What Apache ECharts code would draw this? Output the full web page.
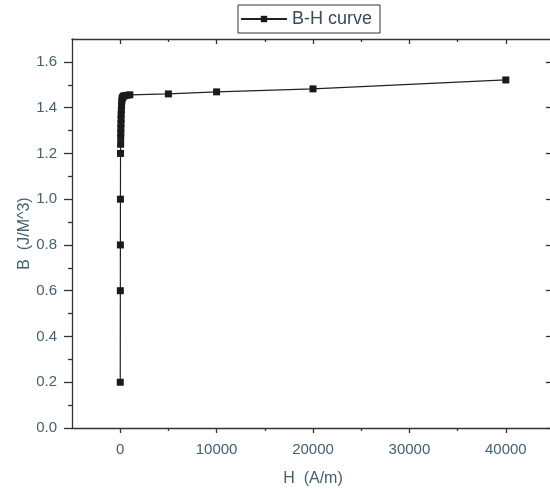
<!DOCTYPE html>
<html>
<head>
<meta charset="utf-8">
<script src="https://cdn.jsdelivr.net/npm/echarts@6/dist/echarts.min.js"></script>
<style>
html,body{margin:0;padding:0;background:#fff;}
#chart{width:550px;height:489px;}
</style>
</head>
<body>
<div id="chart"></div>
<script>
// Data
var H = [5, 15, 20, 25, 35, 45, 55, 60, 70, 80, 90, 100, 120, 140, 170, 200, 250, 320, 450, 700, 1000, 5000, 10000, 20000, 40000];
var B = [0.2, 0.6, 0.8, 1.0, 1.2, 1.24, 1.27, 1.29, 1.31, 1.33, 1.35, 1.37, 1.39, 1.41, 1.43, 1.44, 1.445, 1.45, 1.452, 1.454, 1.456, 1.46, 1.469, 1.482, 1.521];
var xMajor = [0, 10000, 20000, 30000, 40000];
var xMinor = [5000, 15000, 25000, 35000];
var yMajor = [0, 0.2, 0.4, 0.6, 0.8, 1.0, 1.2, 1.4, 1.6];
var yMinor = [0.1, 0.3, 0.5, 0.7, 0.9, 1.1, 1.3, 1.5];
var seriesName = 'B-H curve';
var xName = 'H  (A/m)';
var yName = 'B  (J/M^3)';

var pts = H.map(function (h, i) { return [h, B[i]]; });
var axisCol = '#333';
var labelCol = '#456070';
var font = 'Arial, "Liberation Sans", sans-serif';
var gridRect = { left: 72, top: 39, width: 482, height: 389, containLabel: false, outerBoundsMode: 'none' };

function xAx(grid, pos, ticks, len, inside, showLine, showLabels) {
  return {
    type: 'value', gridIndex: grid, position: pos, min: -5000, max: 45000,
    axisLine: { show: showLine, onZero: false, lineStyle: { color: axisCol, width: 1.3 } },
    axisTick: { show: true, inside: inside, length: len, customValues: ticks, lineStyle: { color: axisCol, width: 1.3 } },
    axisLabel: showLabels ? { show: true, customValues: xMajor, margin: 14, color: labelCol, fontSize: 15, fontFamily: font,
      formatter: function (v) { return String(Math.round(v)); } } : { show: false },
    splitLine: { show: false }
  };
}
function yAx(grid, pos, ticks, len, inside, showLine, showLabels) {
  return {
    type: 'value', gridIndex: grid, position: pos, min: 0, max: 1.7,
    axisLine: { show: showLine, onZero: false, lineStyle: { color: axisCol, width: 1.3 } },
    axisTick: { show: true, inside: inside, length: len, customValues: ticks, lineStyle: { color: axisCol, width: 1.3 } },
    axisLabel: showLabels ? { show: true, customValues: yMajor, margin: 15, color: labelCol, fontSize: 15, fontFamily: font,
      formatter: function (v) { return (+v).toFixed(1); } } : { show: false },
    splitLine: { show: false }
  };
}

var xa0 = xAx(0, 'bottom', xMajor, 5, false, true, true);
xa0.name = xName; xa0.nameLocation = 'middle'; xa0.nameGap = 43; xa0.nameMoveOverlap = false;
xa0.nameTextStyle = { color: labelCol, fontSize: 16, fontFamily: font };
var ya0 = yAx(0, 'left', yMajor, 8, false, true, true);
ya0.name = yName; ya0.nameLocation = 'middle'; ya0.nameGap = 39; ya0.nameMoveOverlap = false;
ya0.nameTextStyle = { color: labelCol, fontSize: 16, fontFamily: font };

var chart = echarts.init(document.getElementById('chart'), null, { renderer: 'canvas' });
chart.setOption({
  animation: false,
  backgroundColor: '#fff',
  grid: [gridRect, Object.assign({}, gridRect)],
  legend: {
    left: 238, top: 5,
    data: [seriesName],
    itemWidth: 46, itemHeight: 8, itemGap: 6,
    borderColor: '#333', borderWidth: 1,
    padding: [5, 8, 5, 2],
    textStyle: { color: '#3a4a5a', fontSize: 18, fontFamily: font }
  },
  xAxis: [
    xa0,
    xAx(0, 'top', xMajor, 5, true, true, false),
    xAx(1, 'bottom', xMinor, 3, false, false, false),
    xAx(1, 'top', xMinor, 3, true, false, false)
  ],
  yAxis: [
    ya0,
    yAx(0, 'right', yMajor, 8, true, false, false),
    yAx(1, 'left', yMinor, 4, false, false, false),
    yAx(1, 'right', yMinor, 4, true, false, false)
  ],
  series: [{
    name: seriesName,
    type: 'line',
    xAxisIndex: 0, yAxisIndex: 0,
    data: pts,
    symbol: 'rect', symbolSize: 7, showAllSymbol: true,
    lineStyle: { color: '#222', width: 1.2 },
    itemStyle: { color: '#1a1a1a' }
  }]
});
</script>
</body>
</html>
